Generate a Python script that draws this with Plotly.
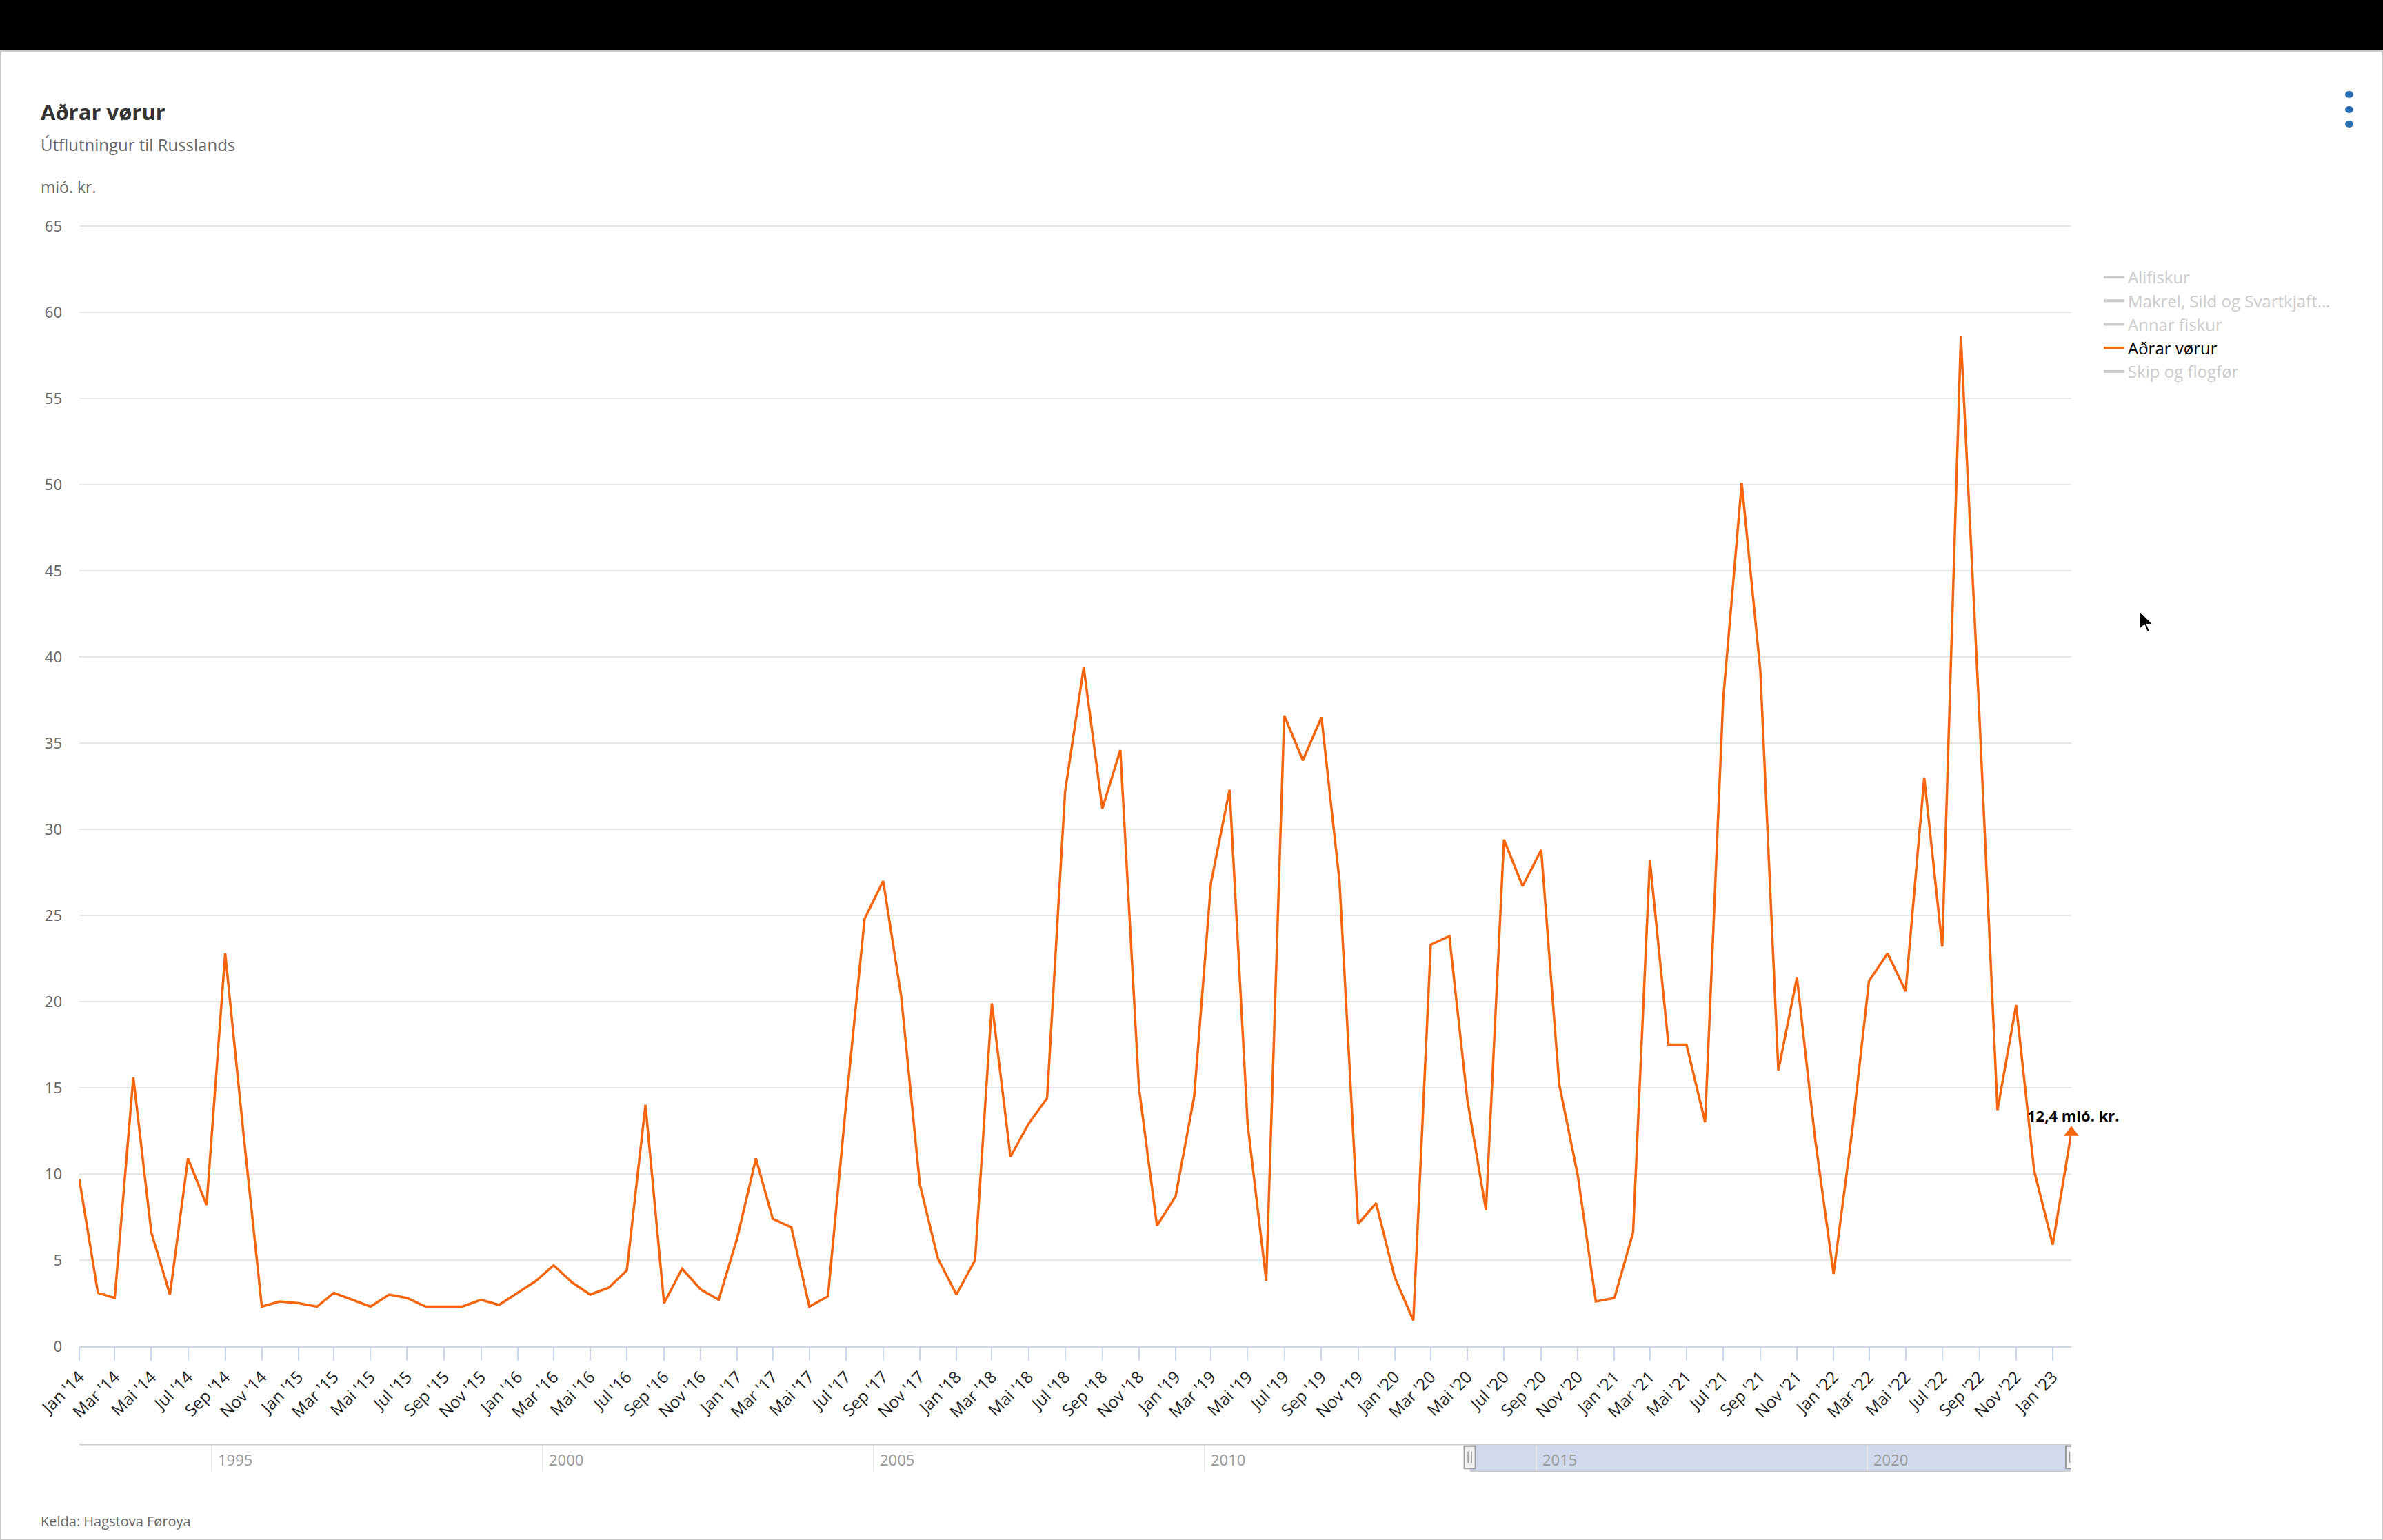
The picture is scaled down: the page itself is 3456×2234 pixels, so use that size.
import pandas as pd
import plotly.graph_objects as go

# ---------------- data ----------------
start_month = "2014-01-01"
values = [
    9.7, 3.1, 2.8, 15.6, 6.6, 3.0, 10.9, 8.2, 22.8, 12.5, 2.3, 2.6,      # 2014
    2.5, 2.3, 3.1, 2.7, 2.3, 3.0, 2.8, 2.3, 2.3, 2.3, 2.7, 2.4,          # 2015
    3.1, 3.8, 4.7, 3.7, 3.0, 3.4, 4.4, 14.0, 2.5, 4.5, 3.3, 2.7,         # 2016
    6.3, 10.9, 7.4, 6.9, 2.3, 2.9, 14.0, 24.8, 27.0, 20.3, 9.4, 5.1,     # 2017
    3.0, 5.0, 19.9, 11.0, 12.9, 14.4, 32.2, 39.4, 31.2, 34.6, 15.0, 7.0, # 2018
    8.7, 14.5, 26.9, 32.3, 12.9, 3.8, 36.6, 34.0, 36.5, 27.0, 7.1, 8.3,  # 2019
    4.0, 1.5, 23.3, 23.8, 14.3, 7.9, 29.4, 26.7, 28.8, 15.2, 9.9, 2.6,   # 2020
    2.8, 6.6, 28.2, 17.5, 17.5, 13.0, 37.5, 50.1, 39.2, 16.0, 21.4, 12.1,# 2021
    4.2, 12.5, 21.2, 22.8, 20.6, 33.0, 23.2, 58.6, 36.5, 13.7, 19.8, 10.2,# 2022
    5.9, 12.4,                                                           # 2023
]
series_name = "Aðrar vørur"
hidden_series = ["Alifiskur", "Makrel, Sild og Svartkjaft…", "Annar fiskur", "Skip og flogfør"]
legend_order = ["Alifiskur", "Makrel, Sild og Svartkjaft…", "Annar fiskur", "Aðrar vørur", "Skip og flogfør"]
month_abbr = ["Jan", "Feb", "Mar", "Apr", "Mai", "Jun", "Jul", "Aug", "Sep", "Okt", "Nov", "Des"]
y_ticks = [0, 5, 10, 15, 20, 25, 30, 35, 40, 45, 50, 55, 60, 65]
y_max = 65
nav_start = "1993-01-01"
nav_years = [1995, 2000, 2005, 2010, 2015, 2020]

title_text = "Aðrar vørur"
subtitle_text = "Útflutningur til Russlands"
unit_text = "mió. kr."
source_text = "Kelda: Hagstova Føroya"

# ---------------- styling ----------------
ORANGE = "#F4650E"
FONT = "Open Sans"
W, H = 3456, 2234
L, R_EDGE = 115, 3004
Y_TOP_PIX = 328          # pixel row of the top tick value
Y0_PIX = 1953            # pixel row of value 0
PAD = 0.08               # small headroom so the top gridline is drawn
unit_px = (Y0_PIX - Y_TOP_PIX) / y_max
T = Y_TOP_PIX - PAD * unit_px
B = 2140
PW, PH = R_EDGE - L, B - T
NAV_TOP, NAV_BOT = 2095, 2135


def pxx(x):
    return (x - L) / PW


def pyy(y):
    return (B - y) / PH


dates = pd.date_range(start_month, periods=len(values), freq="MS")
tick_dates = dates[::2]
tick_text = [f"{month_abbr[d.month - 1]} '{d.strftime('%y')}" for d in tick_dates]


def date_fmt(d):
    return d.strftime("%Y-%m-%d")


fig = go.Figure()

# hidden (legend-only) series
for name in hidden_series:
    fig.add_trace(go.Scatter(
        x=[None], y=[None], mode="lines", visible="legendonly",
        name=f"<span style='color:#999999'>{name}</span>",
        line=dict(color="#999999", width=4),
        legendrank=legend_order.index(name) + 1,
    ))

fig.add_trace(go.Scatter(
    x=dates, y=values, mode="lines", name=series_name,
    line=dict(color=ORANGE, width=3.5),
    legendrank=legend_order.index(series_name) + 1,
))

# triangle marker on the last point
fig.add_trace(go.Scatter(
    x=[dates[-1]], y=[values[-1]], mode="markers", showlegend=False, cliponaxis=False,
    marker=dict(symbol="triangle-up", size=19, color=ORANGE, line=dict(width=0)),
))

last_label = f"{values[-1]:.1f}".replace(".", ",") + " mió. kr."

annotations = [
    dict(text=subtitle_text, xref="paper", yref="paper", x=pxx(57), y=pyy(209),
         xanchor="left", yanchor="middle", showarrow=False,
         font=dict(family=FONT, size=24, color="#666666")),
    dict(text=unit_text, xref="paper", yref="paper", x=pxx(57), y=pyy(271),
         xanchor="left", yanchor="middle", showarrow=False,
         font=dict(family=FONT, size=23, color="#666666")),
    dict(text=source_text, xref="paper", yref="paper", x=pxx(57), y=pyy(2206),
         xanchor="left", yanchor="middle", showarrow=False,
         font=dict(family=FONT, size=20, color="#666666")),
    dict(text=f"<b>{last_label}</b>", x=dates[-1], y=values[-1], xref="x", yref="y",
         yshift=25, xshift=3, showarrow=False, xanchor="center", yanchor="middle",
         font=dict(family=FONT, size=22, color="#000000")),
]
for yr in nav_years:
    annotations.append(dict(
        text=str(yr), x=f"{yr}-01-01", y=0.45, xref="x2", yref="y2",
        xanchor="left", yanchor="middle", xshift=7, showarrow=False,
        font=dict(family=FONT, size=22, color="#999999")))

shapes = []
# black band at top of the page + chart container border
shapes.append(dict(type="rect", xref="paper", yref="paper",
                   x0=pxx(0), x1=pxx(W), y0=pyy(74), y1=pyy(0),
                   fillcolor="#000000", line=dict(width=0), layer="above"))
shapes.append(dict(type="rect", xref="paper", yref="paper",
                   x0=pxx(1), x1=pxx(W - 1), y0=pyy(H - 1), y1=pyy(74),
                   fillcolor="rgba(0,0,0,0)", line=dict(color="#c8c8c8", width=2), layer="above"))
# navigator: selected range, outline, handles
sel0, sel1 = date_fmt(dates[0]), date_fmt(dates[-1])
shapes.append(dict(type="rect", xref="x2", yref="y2", x0=sel0, x1=sel1, y0=0, y1=1,
                   fillcolor="rgba(102,133,194,0.3)", line=dict(width=0), layer="below"))
shapes.append(dict(type="line", xref="x2", yref="y2", x0=nav_start, x1=sel1, y0=1, y1=1,
                   line=dict(color="#cccccc", width=3)))
shapes.append(dict(type="line", xref="x2", yref="y2", x0=sel0, x1=sel1, y0=0, y1=0,
                   line=dict(color="#cccccc", width=3)))
for hx in (sel0, sel1):
    shapes.append(dict(type="rect", xref="x2", yref="y2", xsizemode="pixel", xanchor=hx,
                       x0=-8, x1=8, y0=0.12, y1=0.93,
                       fillcolor="#f2f2f2", line=dict(color="#999999", width=2)))
    for off in (-2.5, 2.5):
        shapes.append(dict(type="line", xref="x2", yref="y2", xsizemode="pixel", xanchor=hx,
                           x0=off, x1=off, y0=0.32, y1=0.73,
                           line=dict(color="#999999", width=1.5)))
# export menu (three dots)
for cy in (137, 159, 180):
    shapes.append(dict(type="circle", xref="paper", yref="paper",
                       x0=pxx(3401), x1=pxx(3413), y0=pyy(cy + 5), y1=pyy(cy - 5),
                       fillcolor="#2a6db0", line=dict(width=0)))
# mouse pointer
cur = [(0, 0), (0, 27), (7, 21), (11, 31), (15, 29.5), (11, 20), (20, 20)]
cx, cyy = 3103, 886
path = "M " + " L ".join(f"{pxx(cx + a):.6f},{pyy(cyy + b):.6f}" for a, b in cur) + " Z"
shapes.append(dict(type="path", xref="paper", yref="paper", path=path,
                   fillcolor="#000000", line=dict(color="#ffffff", width=2)))

y_main0 = pyy(Y0_PIX)

fig.update_layout(
    width=W, height=H,
    margin=dict(l=L, r=W - R_EDGE, t=T, b=H - B, pad=0, autoexpand=False),
    paper_bgcolor="#ffffff", plot_bgcolor="#ffffff",
    font=dict(family=FONT, color="#333333"),
    title=dict(text=f"<b>{title_text}</b>", xref="container", yref="container",
               x=59 / W, y=1 - 163 / H, xanchor="left", yanchor="middle",
               font=dict(family=FONT, size=31, color="#333333")),
    showlegend=True,
    legend=dict(x=pxx(3046), y=pyy(380), xanchor="left", yanchor="top",
                font=dict(family=FONT, size=24, color="#000000"),
                bgcolor="rgba(0,0,0,0)", traceorder="normal", itemclick=False),
    xaxis=dict(domain=[0, 1], anchor="y", type="date",
               range=[date_fmt(dates[0]), date_fmt(dates[-1])],
               tickmode="array", tickvals=list(tick_dates), ticktext=tick_text,
               tickangle=-45, ticks="outside", ticklen=19, tickwidth=2, tickcolor="#ccd6eb",
               showline=True, linecolor="#ccd6eb", linewidth=2,
               showgrid=False, zeroline=False,
               tickfont=dict(family=FONT, size=24, color="#222222")),
    yaxis=dict(domain=[y_main0, 1], anchor="x", range=[0, y_max + PAD],
               tickmode="array", tickvals=y_ticks,
               showgrid=True, gridcolor="#e6e6e6", gridwidth=2,
               showline=False, zeroline=False, ticks="",
               ticklabelstandoff=24,
               tickfont=dict(family=FONT, size=22, color="#666666")),
    xaxis2=dict(domain=[0, 1], anchor="y2", type="date",
                range=[nav_start, date_fmt(dates[-1])],
                tickmode="array", tickvals=[f"{y}-01-01" for y in nav_years],
                showticklabels=False, ticks="", showgrid=True,
                gridcolor="#e6e6e6", gridwidth=2, showline=False, zeroline=False,
                fixedrange=True),
    yaxis2=dict(domain=[pyy(NAV_BOT), pyy(NAV_TOP)], anchor="x2", range=[0, 1],
                showgrid=False, showticklabels=False, zeroline=False, showline=False,
                fixedrange=True),
    annotations=annotations,
    shapes=shapes,
    hovermode=False,
)

fig.write_html(
    "out.html",
    config={"displayModeBar": False},
    post_script="document.body.style.margin='0px'; document.body.style.overflow='hidden';",
)
